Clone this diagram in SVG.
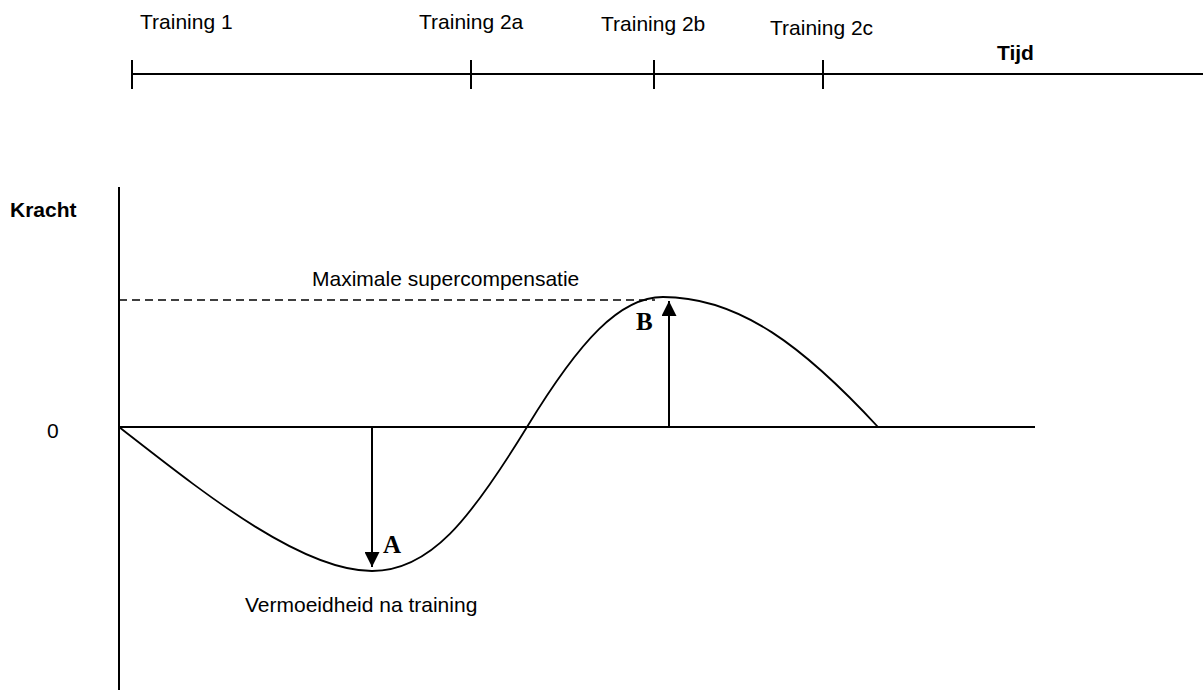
<svg xmlns="http://www.w3.org/2000/svg" width="1203" height="690" viewBox="0 0 1203 690">
<style>
.t{font-family:"Liberation Sans",Arial,sans-serif;font-size:21px;fill:#000}
.b{font-weight:bold}
.s{font-family:"Liberation Serif","Times New Roman",serif;font-weight:bold;font-size:25px;fill:#000}
.ln{stroke:#000;stroke-width:2;fill:none}
</style>
<defs>
<marker id="ah" markerWidth="15" markerHeight="15" refX="15" refY="7.5" orient="auto" markerUnits="userSpaceOnUse">
<path d="M0,0 L15,7.5 L0,15 Z" fill="#000"/>
</marker>
</defs>
<rect width="1203" height="690" fill="#fff"/>
<g id="timeline">
<line class="ln" x1="132" y1="74" x2="1203" y2="74"/>
<line class="ln" x1="132" y1="60" x2="132" y2="89"/>
<line class="ln" x1="471" y1="60" x2="471" y2="89"/>
<line class="ln" x1="654" y1="60" x2="654" y2="89"/>
<line class="ln" x1="823" y1="60" x2="823" y2="89"/>
<text class="t" x="140" y="29">Training 1</text>
<text class="t" x="419" y="29">Training 2a</text>
<text class="t" x="601" y="31">Training 2b</text>
<text class="t" x="770" y="35">Training 2c</text>
<text class="t b" x="997" y="60">Tijd</text>
</g>
<g id="axes">
<line class="ln" x1="119" y1="187" x2="119" y2="690"/>
<line class="ln" x1="119" y1="427" x2="1035" y2="427"/>
<text class="t b" x="10" y="217">Kracht</text>
<text class="t" x="47" y="438">0</text>
</g>
<g id="supercomp">
<line x1="119" y1="300" x2="655" y2="300" stroke="#000" stroke-width="1.6" stroke-dasharray="8,5"/>
<text class="t" x="312" y="286">Maximale supercompensatie</text>
</g>
<g id="curve">
<path d="M119,427 C200,490 300,571 372,571 C430,571 470,520 527,427 C580,340 620,297 663,297 C740,297 805,348 878,427" stroke="#000" stroke-width="1.8" fill="none"/>
</g>
<g id="connectors">
<line class="ln" x1="372" y1="427" x2="372" y2="567" marker-end="url(#ah)"/>
<line class="ln" x1="669" y1="427" x2="669" y2="301" marker-end="url(#ah)"/>
</g>
<g id="labels">
<text class="s" x="383" y="553">A</text>
<text class="s" x="636" y="330">B</text>
<text class="t" x="245" y="612">Vermoeidheid na training</text>
</g>
</svg>
